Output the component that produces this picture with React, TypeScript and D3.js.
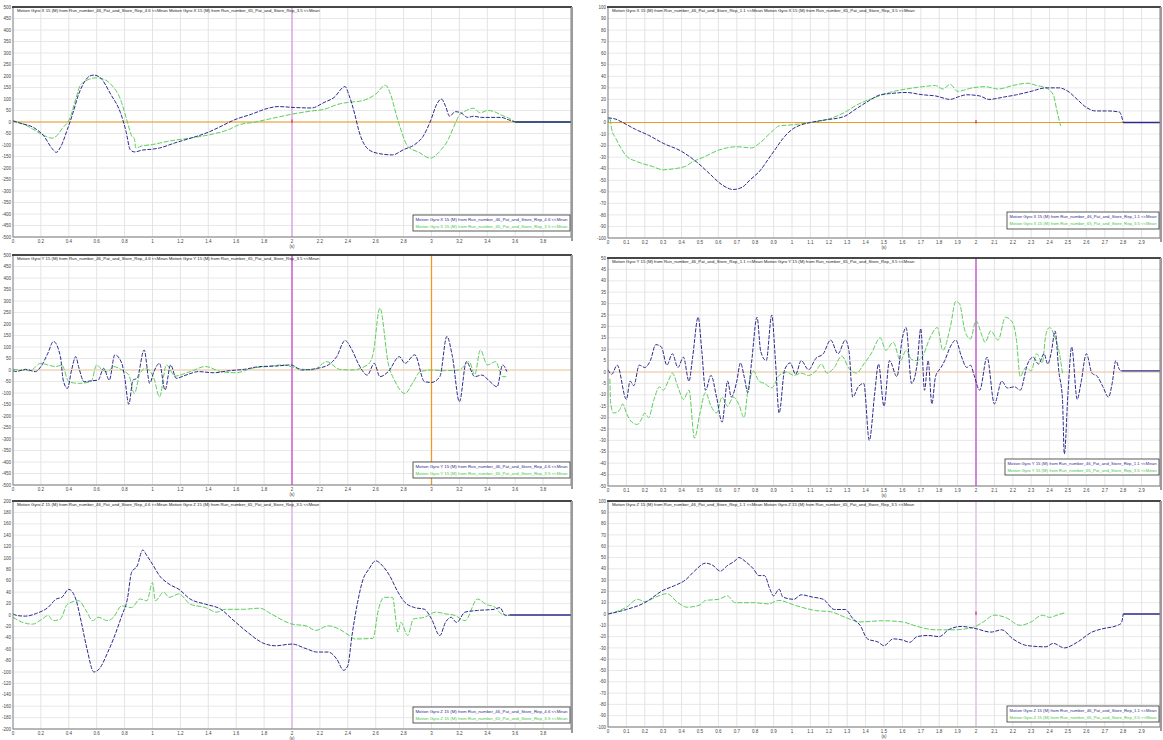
import { useEffect, useRef } from 'react';
import * as d3 from 'd3';

type Pt = [ number, number ];

// time ticks (s)
const leftTimeTicks = [ 0, 0.2, 0.4, 0.6, 0.8, 1, 1.2, 1.4, 1.6, 1.8, 2, 2.2, 2.4, 2.6, 2.8, 3, 3.2, 3.4, 3.6, 3.8 ];
const rightTimeTicks = [ 0, 0.1, 0.2, 0.3, 0.4, 0.5, 0.6, 0.7, 0.8, 0.9, 1, 1.1, 1.2, 1.3, 1.4, 1.5, 1.6, 1.7, 1.8, 1.9, 2, 2.1, 2.2, 2.3, 2.4, 2.5, 2.6, 2.7, 2.8, 2.9 ];

// value ticks
const ticks500 = [ 500, 450, 400, 350, 300, 250, 200, 150, 100, 50, 0, -50, -100, -150, -200, -250, -300, -350, -400, -450, -500 ];
const ticks200 = [ 200, 180, 160, 140, 120, 100, 80, 60, 40, 20, 0, -20, -40, -60, -80, -100, -120, -140, -160, -180, -200 ];
const ticks100 = [ 100, 90, 80, 70, 60, 50, 40, 30, 20, 10, 0, -10, -20, -30, -40, -50, -60, -70, -80, -90, -100 ];
const ticks50 = [ 50, 45, 40, 35, 30, 25, 20, 15, 10, 5, 0, -5, -10, -15, -20, -25, -30, -35, -40, -45, -50 ];

// Gyro X, run 46 rep 4.6 (blue) / run 65 rep 3.5 (green)
const gyroXLeftBlue: Pt[] = [
  [ 0, 5 ], [ 0.05, -5 ], [ 0.15, -25 ], [ 0.22, -60 ], [ 0.28, -115 ], [ 0.31, -132 ], [ 0.34, -110 ], [ 0.39, -32 ],
  [ 0.43, 40 ], [ 0.47, 120 ], [ 0.51, 172 ], [ 0.55, 200 ], [ 0.58, 204 ], [ 0.63, 190 ], [ 0.7, 121 ], [ 0.77, 41 ],
  [ 0.81, -40 ], [ 0.84, -120 ], [ 0.87, -130 ], [ 0.93, -122 ], [ 1.0, -118 ], [ 1.05, -113 ], [ 1.16, -91 ],
  [ 1.28, -69 ], [ 1.39, -47 ], [ 1.47, -25 ], [ 1.59, 10 ], [ 1.71, 34 ], [ 1.83, 60 ], [ 1.9, 67 ], [ 2.02, 63 ],
  [ 2.14, 61 ], [ 2.23, 85 ], [ 2.3, 106 ], [ 2.38, 154 ], [ 2.41, 114 ], [ 2.45, 34 ], [ 2.48, -40 ], [ 2.55, -120 ],
  [ 2.63, -138 ], [ 2.72, -143 ], [ 2.8, -120 ], [ 2.88, -98 ], [ 2.94, -62 ], [ 2.99, 0 ], [ 3.04, 80 ], [ 3.07, 100 ],
  [ 3.1, 70 ], [ 3.13, 25 ], [ 3.17, 45 ], [ 3.21, 40 ], [ 3.26, 20 ], [ 3.3, 25 ], [ 3.36, 20 ], [ 3.5, 20 ],
  [ 3.55, 10 ], [ 3.6, 0 ], [ 4.0, 0 ],
];
const gyroXLeftGreen: Pt[] = [
  [ 0, 5 ], [ 0.06, -5 ], [ 0.14, -30 ], [ 0.22, -58 ], [ 0.28, -70 ], [ 0.31, -62 ], [ 0.35, -30 ], [ 0.41, 20 ],
  [ 0.45, 100 ], [ 0.48, 157 ], [ 0.52, 178 ], [ 0.55, 187 ], [ 0.6, 192 ], [ 0.63, 190 ], [ 0.7, 165 ], [ 0.77, 99 ],
  [ 0.82, 0 ], [ 0.85, -60 ], [ 0.87, -72 ], [ 0.88, -113 ], [ 0.92, -105 ], [ 1.0, -98 ], [ 1.11, -84 ], [ 1.28, -69 ],
  [ 1.45, -50 ], [ 1.55, -32 ], [ 1.62, -12 ], [ 1.72, -2 ], [ 1.83, 12 ], [ 2.0, 34 ], [ 2.14, 48 ], [ 2.23, 55 ],
  [ 2.33, 77 ], [ 2.4, 85 ], [ 2.5, 92 ], [ 2.6, 121 ], [ 2.67, 160 ], [ 2.71, 114 ], [ 2.75, 26 ], [ 2.78, -32 ],
  [ 2.83, -106 ], [ 2.91, -132 ], [ 2.99, -157 ], [ 3.07, -120 ], [ 3.12, -76 ], [ 3.16, -20 ], [ 3.2, 30 ],
  [ 3.25, 50 ], [ 3.3, 60 ], [ 3.35, 40 ], [ 3.4, 50 ], [ 3.45, 45 ], [ 3.5, 30 ], [ 3.55, 18 ], [ 3.6, 0 ], [ 4.0, 0 ],
];

// Gyro Y, run 46 rep 4.6 (blue) / run 65 rep 3.5 (green)
const gyroYLeftBlue: Pt[] = [
  [ 0, -3 ], [ 0.02, -7 ], [ 0.09, 3 ], [ 0.16, -7 ], [ 0.2, 15 ], [ 0.25, 73 ], [ 0.29, 124 ], [ 0.34, 58 ],
  [ 0.36, -44 ], [ 0.39, -80 ], [ 0.42, 0 ], [ 0.45, 58 ], [ 0.47, 15 ], [ 0.51, -51 ], [ 0.56, -47 ], [ 0.61, -44 ],
  [ 0.65, 7 ], [ 0.69, -44 ], [ 0.73, 66 ], [ 0.78, 29 ], [ 0.8, -29 ], [ 0.83, -149 ], [ 0.86, -44 ], [ 0.89, -36 ],
  [ 0.94, 87 ], [ 0.98, -58 ], [ 1.01, -7 ], [ 1.05, 29 ], [ 1.09, -87 ], [ 1.13, 22 ], [ 1.17, -36 ], [ 1.24, -22 ],
  [ 1.33, -7 ], [ 1.44, -12 ], [ 1.55, -3 ], [ 1.66, 3 ], [ 1.77, 15 ], [ 1.88, 17 ], [ 1.99, 22 ], [ 2.07, 0 ],
  [ 2.18, 7 ], [ 2.26, 22 ], [ 2.32, 58 ], [ 2.38, 128 ], [ 2.43, 87 ], [ 2.48, 22 ], [ 2.54, -22 ], [ 2.59, 29 ],
  [ 2.63, -29 ], [ 2.69, -7 ], [ 2.77, 58 ], [ 2.81, 29 ], [ 2.88, 66 ], [ 2.95, -51 ], [ 3.0, -54 ], [ 3.06, -29 ],
  [ 3.11, 146 ], [ 3.15, 58 ], [ 3.2, -138 ], [ 3.25, 36 ], [ 3.31, -29 ], [ 3.36, -22 ], [ 3.42, -51 ], [ 3.47, -73 ],
  [ 3.51, 22 ], [ 3.54, -7 ],
];
const gyroYLeftGreen: Pt[] = [
  [ 0, 3 ], [ 0.12, -3 ], [ 0.2, 29 ], [ 0.25, 22 ], [ 0.31, 15 ], [ 0.35, 22 ], [ 0.4, -51 ], [ 0.47, -58 ],
  [ 0.56, -51 ], [ 0.6, 22 ], [ 0.64, 0 ], [ 0.68, -7 ], [ 0.72, 15 ], [ 0.78, 0 ], [ 0.83, -22 ], [ 0.87, -102 ],
  [ 0.91, -15 ], [ 0.95, 7 ], [ 1.01, -36 ], [ 1.05, -117 ], [ 1.1, 22 ], [ 1.16, -26 ], [ 1.27, -7 ], [ 1.38, 15 ],
  [ 1.49, -7 ], [ 1.6, -12 ], [ 1.71, 7 ], [ 1.82, 15 ], [ 1.93, 22 ], [ 2.04, 7 ], [ 2.15, 0 ], [ 2.25, 36 ],
  [ 2.34, 3 ], [ 2.43, 0 ], [ 2.54, 22 ], [ 2.58, 66 ], [ 2.63, 270 ], [ 2.69, 29 ], [ 2.74, -51 ], [ 2.81, -102 ],
  [ 2.87, -51 ], [ 2.92, -7 ], [ 3.0, 0 ], [ 3.09, -3 ], [ 3.2, 0 ], [ 3.27, 36 ], [ 3.31, -20 ], [ 3.35, 87 ],
  [ 3.4, 22 ], [ 3.46, 36 ], [ 3.51, -29 ], [ 3.54, -29 ],
];

// Gyro Z, run 46 rep 4.6 (blue) / run 65 rep 3.5 (green)
const gyroZLeftBlue: Pt[] = [
  [ 0, 2 ], [ 0.03, -1 ], [ 0.09, -2 ], [ 0.17, 3 ], [ 0.25, 13 ], [ 0.31, 28 ], [ 0.35, 31 ], [ 0.4, 45 ],
  [ 0.45, 28 ], [ 0.49, -13 ], [ 0.53, -59 ], [ 0.58, -100 ], [ 0.62, -94 ], [ 0.68, -65 ], [ 0.72, -42 ],
  [ 0.78, -1 ], [ 0.82, 28 ], [ 0.85, 75 ], [ 0.89, 86 ], [ 0.93, 114 ], [ 0.96, 104 ], [ 1.0, 89 ], [ 1.05, 69 ],
  [ 1.12, 54 ], [ 1.19, 45 ], [ 1.27, 28 ], [ 1.38, 19 ], [ 1.49, 10 ], [ 1.57, -7 ], [ 1.68, -30 ], [ 1.79, -49 ],
  [ 1.88, -54 ], [ 2.0, -51 ], [ 2.1, -59 ], [ 2.18, -65 ], [ 2.26, -65 ], [ 2.32, -77 ], [ 2.37, -97 ], [ 2.4, -89 ],
  [ 2.43, -36 ], [ 2.47, 22 ], [ 2.51, 63 ], [ 2.55, 80 ], [ 2.6, 95 ], [ 2.65, 86 ], [ 2.7, 69 ], [ 2.76, 40 ],
  [ 2.81, 22 ], [ 2.88, 13 ], [ 2.95, 10 ], [ 3.0, -7 ], [ 3.06, -36 ], [ 3.1, -13 ], [ 3.14, -4 ], [ 3.18, -13 ],
  [ 3.24, 5 ], [ 3.33, 8 ], [ 3.45, 10 ], [ 3.49, 13 ], [ 3.53, -1 ], [ 3.56, 0 ], [ 4.0, 0 ],
];
const gyroZLeftGreen: Pt[] = [
  [ 0, -4 ], [ 0.06, -12 ], [ 0.14, -16 ], [ 0.21, -7 ], [ 0.25, -1 ], [ 0.29, -10 ], [ 0.34, -7 ], [ 0.39, 19 ],
  [ 0.47, 25 ], [ 0.53, 5 ], [ 0.57, -10 ], [ 0.61, -4 ], [ 0.68, -10 ], [ 0.72, -4 ], [ 0.78, 16 ], [ 0.85, 13 ],
  [ 0.91, 28 ], [ 0.96, 25 ], [ 1.0, 57 ], [ 1.02, 25 ], [ 1.08, 40 ], [ 1.12, 31 ], [ 1.19, 37 ], [ 1.27, 19 ],
  [ 1.38, 13 ], [ 1.46, 5 ], [ 1.52, 10 ], [ 1.65, 10 ], [ 1.77, 12 ], [ 1.85, 2 ], [ 2.0, -16 ], [ 2.1, -19 ],
  [ 2.17, -27 ], [ 2.26, -19 ], [ 2.34, -25 ], [ 2.41, -36 ], [ 2.45, -42 ], [ 2.58, -41 ], [ 2.62, 10 ],
  [ 2.66, 31 ], [ 2.72, 31 ], [ 2.76, -30 ], [ 2.78, -13 ], [ 2.83, -36 ], [ 2.87, -7 ], [ 2.95, -4 ], [ 3.03, 5 ],
  [ 3.1, 2 ], [ 3.17, -1 ], [ 3.24, -10 ], [ 3.33, 28 ], [ 3.39, 19 ], [ 3.46, 13 ], [ 3.5, 2 ], [ 3.54, 0 ],
];

// Gyro X, run 46 rep 1.1 (blue) / run 65 rep 3.5 (green)
const gyroXRightBlue: Pt[] = [
  [ 0, 4 ], [ 0.04, 3 ], [ 0.08, 0 ], [ 0.15, -6 ], [ 0.22, -11 ], [ 0.3, -18 ], [ 0.4, -25 ], [ 0.48, -34 ],
  [ 0.55, -44 ], [ 0.62, -54 ], [ 0.68, -58 ], [ 0.73, -56 ], [ 0.77, -50 ], [ 0.83, -41 ], [ 0.87, -32 ],
  [ 0.91, -23 ], [ 0.95, -14 ], [ 1.0, -6 ], [ 1.05, -2 ], [ 1.1, 0 ], [ 1.17, 2 ], [ 1.28, 5 ], [ 1.35, 12 ],
  [ 1.42, 19 ], [ 1.48, 24 ], [ 1.53, 25 ], [ 1.62, 26 ], [ 1.71, 24 ], [ 1.78, 23 ], [ 1.86, 20 ], [ 1.9, 22 ],
  [ 1.95, 24 ], [ 2.02, 23 ], [ 2.07, 20 ], [ 2.15, 22 ], [ 2.22, 24 ], [ 2.3, 27 ], [ 2.38, 30 ], [ 2.45, 30 ],
  [ 2.5, 27 ], [ 2.55, 20 ], [ 2.6, 13 ], [ 2.65, 10 ], [ 2.72, 10 ], [ 2.78, 9 ], [ 2.8, 0 ], [ 3.0, 0 ],
];
const gyroXRightGreen: Pt[] = [
  [ 0, 0 ], [ 0.01, 4 ], [ 0.02, -6 ], [ 0.04, -13 ], [ 0.07, -22 ], [ 0.1, -29 ], [ 0.16, -34 ], [ 0.24, -38 ],
  [ 0.3, -41 ], [ 0.36, -40 ], [ 0.42, -38 ], [ 0.46, -34 ], [ 0.52, -30 ], [ 0.6, -24 ], [ 0.7, -21 ], [ 0.78, -22 ],
  [ 0.83, -17 ], [ 0.89, -8 ], [ 0.93, -3 ], [ 1.0, -2 ], [ 1.1, 0 ], [ 1.2, 3 ], [ 1.3, 10 ], [ 1.35, 15 ],
  [ 1.44, 21 ], [ 1.53, 26 ], [ 1.62, 29 ], [ 1.71, 31 ], [ 1.78, 32 ], [ 1.82, 29 ], [ 1.86, 33 ], [ 1.9, 27 ],
  [ 1.98, 30 ], [ 2.05, 31 ], [ 2.12, 29 ], [ 2.2, 32 ], [ 2.28, 34 ], [ 2.33, 32 ], [ 2.38, 30 ], [ 2.42, 24 ],
  [ 2.44, 10 ], [ 2.46, -3 ],
];

// Gyro Y, run 46 rep 1.1 (blue) / run 65 rep 3.5 (green)
const gyroYRightBlue: Pt[] = [
  [ 0, 1 ], [ 0.02, -1 ], [ 0.05, 3 ], [ 0.1, -12 ], [ 0.12, -4 ], [ 0.14, -6 ], [ 0.17, 3 ], [ 0.2, 2 ], [ 0.23, 5 ],
  [ 0.26, 12 ], [ 0.29, 11 ], [ 0.32, 3 ], [ 0.35, 8 ], [ 0.38, 2 ], [ 0.41, 6.5 ], [ 0.44, -4 ], [ 0.46, 6.5 ],
  [ 0.49, 24 ], [ 0.51, 9 ], [ 0.53, -8 ], [ 0.56, -1.5 ], [ 0.59, -11 ], [ 0.62, -22 ], [ 0.65, -4 ], [ 0.67, -11 ],
  [ 0.7, -4 ], [ 0.72, 4 ], [ 0.74, -2 ], [ 0.76, -9 ], [ 0.78, 4 ], [ 0.81, 24 ], [ 0.83, 9 ], [ 0.86, 5 ],
  [ 0.89, 25 ], [ 0.91, 5 ], [ 0.93, -18 ], [ 0.96, 1 ], [ 0.99, 4 ], [ 1.02, -1 ], [ 1.05, 5 ], [ 1.09, 1 ],
  [ 1.13, 6 ], [ 1.17, 8 ], [ 1.21, 14 ], [ 1.25, 8 ], [ 1.29, 14 ], [ 1.31, 9 ], [ 1.33, -11 ], [ 1.36, -6.5 ],
  [ 1.39, -5 ], [ 1.42, -30 ], [ 1.45, -9 ], [ 1.47, 3.5 ], [ 1.5, -15 ], [ 1.53, 5 ], [ 1.57, -2 ], [ 1.6, 15 ],
  [ 1.62, 19.5 ], [ 1.65, -5 ], [ 1.68, 3.5 ], [ 1.7, 19 ], [ 1.72, -8 ], [ 1.74, 5 ], [ 1.76, -14 ], [ 1.78, -2 ],
  [ 1.81, 2 ], [ 1.83, 5 ], [ 1.86, 11 ], [ 1.89, 14 ], [ 1.92, 7 ], [ 1.95, 2 ], [ 1.97, 3 ], [ 1.99, -1.5 ],
  [ 2.02, -8 ], [ 2.06, 6.5 ], [ 2.1, -14 ], [ 2.14, -4 ], [ 2.17, -7 ], [ 2.21, -6.5 ], [ 2.24, -8 ], [ 2.28, 3.5 ],
  [ 2.31, 6.5 ], [ 2.34, 3.5 ], [ 2.37, 8 ], [ 2.39, 3.5 ], [ 2.41, 9 ], [ 2.43, 18 ], [ 2.45, 0.5 ], [ 2.47, -12 ],
  [ 2.48, -36 ], [ 2.5, -9 ], [ 2.52, 11 ], [ 2.55, -12 ], [ 2.57, -5 ], [ 2.6, 8 ], [ 2.63, -0.5 ], [ 2.66, -2 ],
  [ 2.69, -6.5 ], [ 2.72, -11 ], [ 2.74, -5 ], [ 2.76, 5 ], [ 2.78, 1 ], [ 2.79, 0.5 ], [ 3.0, 0.5 ],
];
const gyroYRightGreen: Pt[] = [
  [ 0.01, -3 ], [ 0.015, -14 ], [ 0.03, -18 ], [ 0.06, -17 ], [ 0.08, -14 ], [ 0.1, -18 ], [ 0.13, -22 ],
  [ 0.16, -23 ], [ 0.18, -21 ], [ 0.2, -18 ], [ 0.22, -20 ], [ 0.25, -12 ], [ 0.28, -6.5 ], [ 0.3, -8 ],
  [ 0.33, -3.5 ], [ 0.35, -0.5 ], [ 0.38, -6.5 ], [ 0.41, -12 ], [ 0.44, -8 ], [ 0.47, -29 ], [ 0.5, -18 ],
  [ 0.53, -9 ], [ 0.56, -15 ], [ 0.59, -18 ], [ 0.62, -11 ], [ 0.65, -15 ], [ 0.68, -11 ], [ 0.71, -14 ],
  [ 0.74, -20 ], [ 0.76, -8 ], [ 0.79, 0.5 ], [ 0.82, -4 ], [ 0.85, -5 ], [ 0.89, -7 ], [ 0.93, -1.5 ], [ 0.97, 0 ],
  [ 1.01, -1.5 ], [ 1.05, -0.5 ], [ 1.09, -1.5 ], [ 1.13, 0.5 ], [ 1.16, 3.5 ], [ 1.19, -0.5 ], [ 1.23, 2 ],
  [ 1.27, 7 ], [ 1.31, 1.5 ], [ 1.35, -0.5 ], [ 1.39, 3.5 ], [ 1.43, 8 ], [ 1.48, 15 ], [ 1.51, 9.5 ], [ 1.55, 13 ],
  [ 1.59, 5 ], [ 1.62, 9.5 ], [ 1.65, 5.5 ], [ 1.68, 5 ], [ 1.71, 7 ], [ 1.75, 15 ], [ 1.79, 19.5 ], [ 1.82, 9.5 ],
  [ 1.86, 19.5 ], [ 1.89, 31 ], [ 1.91, 30 ], [ 1.94, 18 ], [ 1.97, 14.5 ], [ 2.0, 22.5 ], [ 2.03, 16.5 ],
  [ 2.05, 13 ], [ 2.08, 18 ], [ 2.12, 14 ], [ 2.16, 24 ], [ 2.2, 21.5 ], [ 2.22, 14 ], [ 2.24, -2 ], [ 2.27, 2 ],
  [ 2.3, 0.5 ], [ 2.33, 8 ], [ 2.36, 4 ], [ 2.38, 16.5 ], [ 2.4, 19.5 ], [ 2.43, 15 ], [ 2.45, 9.5 ], [ 2.47, -0.5 ],
];

// Gyro Z, run 46 rep 1.1 (blue) / run 65 rep 3.5 (green)
const gyroZRightBlue: Pt[] = [
  [ 0, 0 ], [ 0.1, 4 ], [ 0.2, 10 ], [ 0.3, 21 ], [ 0.36, 25 ], [ 0.42, 30 ], [ 0.47, 38 ], [ 0.53, 45 ],
  [ 0.57, 43 ], [ 0.61, 38 ], [ 0.65, 43 ], [ 0.69, 47 ], [ 0.71, 50 ], [ 0.75, 46 ], [ 0.79, 40 ], [ 0.82, 34 ],
  [ 0.85, 34 ], [ 0.88, 22 ], [ 0.9, 16 ], [ 0.93, 22 ], [ 0.95, 15 ], [ 1.01, 13 ], [ 1.05, 17 ], [ 1.11, 15 ],
  [ 1.17, 13 ], [ 1.23, 4 ], [ 1.29, 4 ], [ 1.33, -4 ], [ 1.37, -10 ], [ 1.41, -22 ], [ 1.47, -25 ], [ 1.5, -28 ],
  [ 1.55, -22 ], [ 1.6, -23 ], [ 1.64, -25 ], [ 1.68, -20 ], [ 1.74, -19 ], [ 1.8, -20 ], [ 1.85, -14 ],
  [ 1.92, -11 ], [ 2.0, -13 ], [ 2.08, -16 ], [ 2.14, -14 ], [ 2.2, -22 ], [ 2.28, -28 ], [ 2.38, -29 ],
  [ 2.42, -26 ], [ 2.48, -30 ], [ 2.55, -25 ], [ 2.63, -16 ], [ 2.69, -13 ], [ 2.77, -10 ], [ 2.79, -8 ],
  [ 2.8, 0 ], [ 3.0, 0 ],
];
const gyroZRightGreen: Pt[] = [
  [ 0, 0 ], [ 0.1, 6 ], [ 0.16, 13 ], [ 0.2, 11 ], [ 0.26, 15 ], [ 0.32, 18 ], [ 0.38, 10 ], [ 0.43, 6 ],
  [ 0.5, 8 ], [ 0.53, 12 ], [ 0.6, 13 ], [ 0.65, 16 ], [ 0.69, 10 ], [ 0.79, 10 ], [ 0.87, 9 ], [ 0.93, 12 ],
  [ 1.01, 8 ], [ 1.13, 3 ], [ 1.21, 2 ], [ 1.29, -3 ], [ 1.37, -7 ], [ 1.49, -6 ], [ 1.6, -7 ], [ 1.68, -11 ],
  [ 1.78, -14 ], [ 1.88, -14 ], [ 1.98, -12 ], [ 2.04, -7 ], [ 2.1, -1 ], [ 2.16, -3 ], [ 2.24, -10 ], [ 2.3, -7 ],
  [ 2.36, -1 ], [ 2.4, -3 ], [ 2.44, -1 ], [ 2.48, 1 ],
];

const BLUE = '#2b2b8e';
const GREEN = '#5ccf5c';
const MAGENTA = '#c84ad0';
const ORANGE = '#ee9a22';

const legendText = ( axis: string, rep: string, run: string ) =>
  `Motion Gyro ${ axis } 15 (M) from Run_number_${ run }_Pat_and_Store_Rep_${ rep } <<Mean`;

interface Panel {
  box: [ number, number, number, number ];
  tMax: number;
  tTicks: number[];
  yTicks: number[];
  sAt: number;
  axis: string;
  repBlue: string;
  blue: Pt[];
  green: Pt[];
  blueFlatFrom: number;
  greenFlatFrom: number;
  zeroLine: string | null;
  cursors: Array<{ t: number; color: string }>;
  marker: boolean;
  legend: { w: number; h: number; gap: number };
}

const panels: Panel[] = [
  {
    box: [ 13, 7, 571, 237 ], tMax: 4, tTicks: leftTimeTicks, yTicks: ticks500, sAt: 2, axis: 'X', repBlue: '4.6',
    blue: gyroXLeftBlue, green: gyroXLeftGreen, blueFlatFrom: 3.6, greenFlatFrom: 3.6, zeroLine: ORANGE,
    cursors: [ { t: 2, color: '#d8a0e0' } ], marker: true, legend: { w: 157, h: 16, gap: 6 },
  },
  {
    box: [ 13, 255, 571, 485 ], tMax: 4, tTicks: leftTimeTicks, yTicks: ticks500, sAt: 2, axis: 'Y', repBlue: '4.6',
    blue: gyroYLeftBlue, green: gyroYLeftGreen, blueFlatFrom: 99, greenFlatFrom: 99, zeroLine: '#f3c9a0',
    cursors: [ { t: 2, color: MAGENTA }, { t: 3, color: ORANGE } ], marker: false, legend: { w: 157, h: 16, gap: 7 },
  },
  {
    box: [ 13, 501, 571, 729 ], tMax: 4, tTicks: leftTimeTicks, yTicks: ticks200, sAt: 2, axis: 'Z', repBlue: '4.6',
    blue: gyroZLeftBlue, green: gyroZLeftGreen, blueFlatFrom: 3.56, greenFlatFrom: 99, zeroLine: null,
    cursors: [ { t: 2, color: '#dcb0e4' } ], marker: false, legend: { w: 157, h: 16, gap: 6 },
  },
  {
    box: [ 608, 7, 1160, 238 ], tMax: 3, tTicks: rightTimeTicks, yTicks: ticks100, sAt: 1.5, axis: 'X', repBlue: '1.1',
    blue: gyroXRightBlue, green: gyroXRightGreen, blueFlatFrom: 2.8, greenFlatFrom: 99, zeroLine: ORANGE,
    cursors: [], marker: true, legend: { w: 152, h: 17, gap: 9 },
  },
  {
    box: [ 608, 258, 1160, 486 ], tMax: 3, tTicks: rightTimeTicks, yTicks: ticks50, sAt: 1.5, axis: 'Y', repBlue: '1.1',
    blue: gyroYRightBlue, green: gyroYRightGreen, blueFlatFrom: 2.79, greenFlatFrom: 99, zeroLine: '#f3c9a0',
    cursors: [ { t: 2, color: MAGENTA } ], marker: false, legend: { w: 154, h: 16, gap: 11 },
  },
  {
    box: [ 608, 501, 1160, 727 ], tMax: 3, tTicks: rightTimeTicks, yTicks: ticks100, sAt: 1.5, axis: 'Z', repBlue: '1.1',
    blue: gyroZRightBlue, green: gyroZRightGreen, blueFlatFrom: 2.8, greenFlatFrom: 99, zeroLine: null,
    cursors: [ { t: 2, color: '#e2c0ea' } ], marker: true, legend: { w: 152, h: 16, gap: 5 },
  },
];

const FONT = '"Liberation Sans", Arial, sans-serif';

export default function App() {
  const svgRef = useRef<SVGSVGElement>( null );

  useEffect( () => {
    if ( !svgRef.current ) return;
    const svg = d3.select( svgRef.current );
    svg.selectAll( '*' ).remove();
    svg.append( 'rect' ).attr( 'width', 1163 ).attr( 'height', 740 ).attr( 'fill', '#fff' );

    panels.forEach( p => {
      const [ x0, y0, x1, y1 ] = p.box;
      const yMax = p.yTicks[ 0 ];
      const x = d3.scaleLinear().domain( [ 0, p.tMax ] ).range( [ x0, x1 ] );
      const y = d3.scaleLinear().domain( [ -yMax, yMax ] ).range( [ y1, y0 ] );
      const g = svg.append( 'g' );

      // grid
      g.append( 'g' ).selectAll( 'line' ).data( p.tTicks.slice( 1 ) ).join( 'line' )
        .attr( 'x1', d => x( d ) ).attr( 'x2', d => x( d ) ).attr( 'y1', y0 ).attr( 'y2', y1 )
        .attr( 'stroke', '#dcdcdc' ).attr( 'stroke-width', 0.8 );
      g.append( 'g' ).selectAll( 'line' ).data( p.yTicks ).join( 'line' )
        .attr( 'x1', x0 ).attr( 'x2', x1 ).attr( 'y1', d => y( d ) ).attr( 'y2', d => y( d ) )
        .attr( 'stroke', '#e2e2e2' ).attr( 'stroke-width', 0.8 );

      if ( p.zeroLine ) {
        g.append( 'line' ).attr( 'x1', x0 ).attr( 'x2', x1 ).attr( 'y1', y( 0 ) ).attr( 'y2', y( 0 ) )
          .attr( 'stroke', p.zeroLine ).attr( 'stroke-width', 1.2 );
      }
      p.cursors.forEach( c => {
        g.append( 'line' ).attr( 'x1', x( c.t ) ).attr( 'x2', x( c.t ) ).attr( 'y1', y0 ).attr( 'y2', y1 )
          .attr( 'stroke', c.color ).attr( 'stroke-width', 1.3 );
      } );

      // series
      const line = d3.line<Pt>().x( d => x( d[ 0 ] ) ).y( d => y( d[ 1 ] ) ).curve( d3.curveMonotoneX );
      const drawSeries = ( data: Pt[], flatFrom: number, color: string, dash: string ) => {
        const main = data.filter( d => d[ 0 ] <= flatFrom );
        const tail = data.filter( d => d[ 0 ] >= flatFrom );
        g.append( 'path' ).attr( 'd', line( main ) ).attr( 'fill', 'none' ).attr( 'stroke', color )
          .attr( 'stroke-width', 1 ).attr( 'stroke-dasharray', dash );
        if ( tail.length > 1 ) {
          g.append( 'path' ).attr( 'd', line( tail ) ).attr( 'fill', 'none' ).attr( 'stroke', color )
            .attr( 'stroke-width', 1.4 );
        }
      };
      drawSeries( p.green, p.greenFlatFrom, GREEN, '5,1.6' );
      drawSeries( p.blue, p.blueFlatFrom, BLUE, '4,1.4' );

      if ( p.marker ) {
        g.append( 'line' ).attr( 'x1', x( 2 ) ).attr( 'x2', x( 2 ) ).attr( 'y1', y( 0 ) - 2.5 ).attr( 'y2', y( 0 ) + 1 )
          .attr( 'stroke', '#e0306a' ).attr( 'stroke-width', 1.2 );
      }

      // frame
      g.append( 'rect' ).attr( 'x', x0 ).attr( 'y', y0 ).attr( 'width', x1 - x0 ).attr( 'height', y1 - y0 )
        .attr( 'fill', 'none' ).attr( 'stroke', '#7a7a7a' ).attr( 'stroke-width', 1 );
      g.append( 'line' ).attr( 'x1', x0 - 1 ).attr( 'x2', x1 + 1 ).attr( 'y1', y0 ).attr( 'y2', y0 )
        .attr( 'stroke', '#222' ).attr( 'stroke-width', 1.4 );
      g.append( 'line' ).attr( 'x1', x1 + 1 ).attr( 'x2', x1 + 1 ).attr( 'y1', y0 ).attr( 'y2', y1 + 4 )
        .attr( 'stroke', '#9a9a9a' ).attr( 'stroke-width', 2 );

      // title
      g.append( 'text' ).attr( 'x', x0 + 4 ).attr( 'y', y0 + 5 )
        .attr( 'font-size', 4.3 ).attr( 'font-family', FONT ).attr( 'fill', '#222' )
        .text( `${ legendText( p.axis, p.repBlue, '46' ) }  ${ legendText( p.axis, '3.5', '65' ) }` );

      // y tick labels
      g.append( 'g' ).selectAll( 'text' ).data( p.yTicks ).join( 'text' )
        .attr( 'x', x0 - 2 ).attr( 'y', d => y( d ) + 1.6 ).attr( 'text-anchor', 'end' )
        .attr( 'font-size', 4.5 ).attr( 'font-family', FONT ).attr( 'fill', '#444' )
        .text( d => String( d ) );

      // x tick labels
      g.append( 'g' ).selectAll( 'text' ).data( p.tTicks ).join( 'text' )
        .attr( 'x', d => x( d ) ).attr( 'y', y1 + 6 ).attr( 'text-anchor', 'middle' )
        .attr( 'font-size', 4.5 ).attr( 'font-family', FONT ).attr( 'fill', '#444' )
        .text( d => String( d ) );
      g.append( 'text' ).attr( 'x', x( p.sAt ) ).attr( 'y', y1 + 11 ).attr( 'text-anchor', 'middle' )
        .attr( 'font-size', 4.5 ).attr( 'font-family', FONT ).attr( 'fill', '#444' ).text( '(s)' );

      // legend
      const lx = x1 - 1 - p.legend.w;
      const ly = y1 - p.legend.gap - p.legend.h;
      g.append( 'rect' ).attr( 'x', lx ).attr( 'y', ly ).attr( 'width', p.legend.w ).attr( 'height', p.legend.h )
        .attr( 'fill', '#fff' ).attr( 'stroke', '#333' ).attr( 'stroke-width', 0.8 );
      [ { c: BLUE, t: legendText( p.axis, p.repBlue, '46' ) }, { c: '#3fc63f', t: legendText( p.axis, '3.5', '65' ) } ]
        .forEach( ( l, i ) => {
          g.append( 'text' ).attr( 'x', lx + 2.5 ).attr( 'y', ly + 6 + i * 6.5 )
            .attr( 'font-size', 4.2 ).attr( 'font-family', FONT ).attr( 'fill', l.c )
            .attr( 'textLength', p.legend.w - 5 ).attr( 'lengthAdjust', 'spacingAndGlyphs' )
            .text( l.t );
        } );
    } );
  }, [] );

  return (
    <svg
      ref={ svgRef }
      width={ 1163 }
      height={ 740 }
      style={ { position: 'absolute', left: 0, top: 0, display: 'block' } }
    />
  );
}
